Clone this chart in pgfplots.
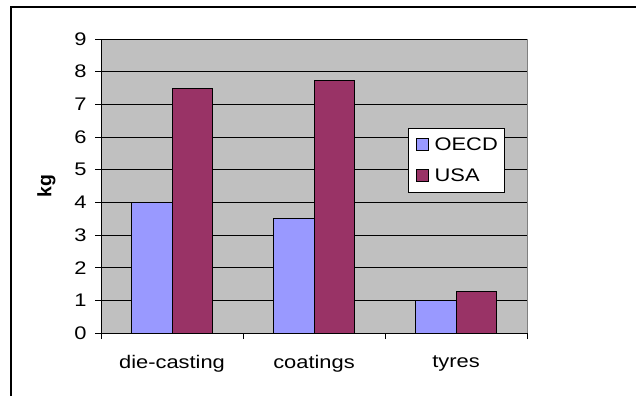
\documentclass[border=0pt]{standalone}
\usepackage{fontspec}
\setmainfont{Liberation Sans}[FakeStretch=1.2]
\newfontfamily\labelfont{Liberation Sans}
\usepackage{pgfplots}
\pgfplotsset{compat=1.18}

\definecolor{oecd}{HTML}{9999FF}
\definecolor{usa}{HTML}{993366}
\definecolor{plotgray}{HTML}{C0C0C0}
\definecolor{framegray}{HTML}{808080}

\begin{document}
\begin{tikzpicture}[x=1bp,y=1bp]
  % page area and the chart frame (left and top edges)
  \useasboundingbox (0,0) rectangle (636,396);
  \draw[line width=1.6bp, black] (11,0) -- (11,389) -- (636,389);

  \begin{axis}[
    at={(101bp,63bp)}, anchor=south west,
    scale only axis,
    width=426bp, height=294bp,
    xmin=-0.5, xmax=2.5,
    ymin=0, ymax=9,
    ybar=0pt,
    bar width=0.286,
    font=\fontsize{18.3}{21}\selectfont,
    /pgf/number format/assume math mode=true,
    axis background/.style={fill=plotgray, draw=framegray, line width=0.8bp},
    axis x line*=bottom,
    axis y line*=left,
    axis line style={-, black, line width=0.9bp},
    xtick={0,1,2},
    xticklabels={die-casting, coatings, tyres},
    x tick style={draw=none},
    xticklabel style={yshift=-13bp},
    extra x ticks={-0.5,0.5,1.5,2.5},
    extra x tick labels={},
    extra x tick style={
      grid=none,
      major tick length=6bp,
      tick align=outside,
      x tick style={draw=black, line width=0.8bp},
    },
    ytick={0,1,...,9},
    ymajorgrids,
    major grid style={black, line width=0.8bp},
    y tick style={black, line width=0.8bp},
    major tick length=6bp,
    tick align=outside,
    yticklabel style={xshift=-5bp},
    ylabel={\labelfont\fontsize{19.5}{22}\selectfont\bfseries kg},
    ylabel style={yshift=12bp},
    legend style={
      at={(0.72,0.697)}, anchor=north west,
      draw=black, fill=white, line width=0.8bp,
      inner xsep=5bp, inner ysep=7.5bp,
      row sep=14bp,
      nodes={inner sep=1.5bp},
      font=\fontsize{18.3}{21}\selectfont,
    },
    legend cell align=left,
    legend image code/.code={
      \draw[#1, draw=black, line width=0.8bp] (3bp,-6bp) rectangle (15bp,6bp);
      \path (0bp,0bp) (19bp,0bp);
    },
  ]
    \addplot[fill=oecd, draw=black, line width=1bp]
      coordinates {(0,4.0) (1,3.5) (2,1.0)};
    \addplot[fill=usa, draw=black, line width=1bp]
      coordinates {(0,7.47) (1,7.72) (2,1.28)};
    \legend{OECD, USA}
  \end{axis}
\end{tikzpicture}
\end{document}
